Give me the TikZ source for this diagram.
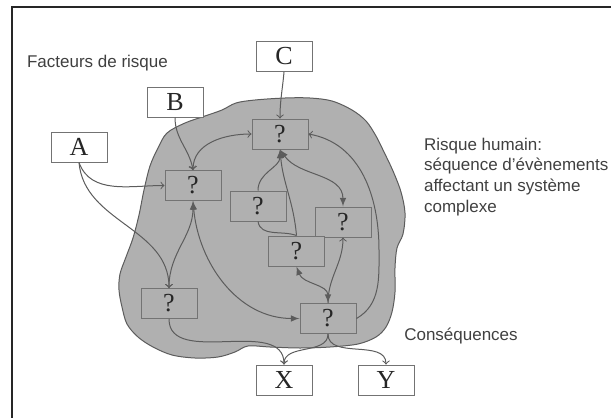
\documentclass[tikz,border=0pt]{standalone}
\usepackage{fontspec}
\setmainfont{Liberation Serif}
\setsansfont{Liberation Sans}
\usepackage{tikz}
\usetikzlibrary{calc}
\usetikzlibrary{shapes,arrows}

\definecolor{fondgris}{gray}{0.69}
\definecolor{traitgris}{gray}{0.36}
\definecolor{cadregris}{gray}{0.45}
\definecolor{textegris}{gray}{0.25}

\begin{document}
\begin{tikzpicture}[x=0.5pt,y=-0.5pt]
			\tikzstyle{every node}=[font=\fontsize{8.5}{10.3}\selectfont\sffamily, text=textegris]
			\tikzstyle{facteur}=[draw=cadregris, line width=0.5pt, fill=white, minimum width=28pt, minimum height=15pt, inner sep=0pt, font=\fontsize{13}{13}\selectfont\rmfamily, text=black!85]
			\tikzstyle{evt}=[facteur, fill=fondgris]
			\tikzstyle{lien}=[draw=traitgris, line width=0.5pt]
			
			\useasboundingbox (0,0) rectangle (611,418);
			\draw [line width=1.2pt, black!85] (12,418) -- (12,7) -- (611,7);
			
			% la tache : le systeme complexe
			\draw [draw=traitgris, line width=0.5pt, fill=fondgris] plot [smooth cycle, tension=0.55] coordinates {
				(167,133) (185,123) (205,116) (222,110) (236,103) (255,100) (285,98) (310,98) (332,101)
				(352,110) (366,121) (376,136) (384,152) (393,171) (401,192) (405,213) (403,234) (397,248)
				(395,268) (395,292) (392,312) (386,327) (376,337) (358,344) (330,347) (300,348) (270,347)
				(248,346) (235,352) (218,357) (195,358) (172,355) (153,347) (138,337) (127,324) (122,307)
				(119,290) (120,274) (126,257) (133,238) (139,215) (144,190) (150,166) (158,148)};
			
			\node [anchor=west] (facteurs) at (20,63) {Facteurs de risque};
			\node [anchor=north west, align=left] (risque) at (417,131) {Risque humain:\\s\'equence d’\'ev\`enements\\affectant un syst\`eme\\complexe};
			\node (cons) at (461,336) {Cons\'equences};
			
			\node [facteur] (C) at (284,56.5) {C};
			\node [facteur] (B) at (175,102) {B};
			\node [facteur] (A) at (79,147) {A};
			\node [facteur] (X) at (284,380) {X};
			\node [facteur] (Y) at (386,380) {Y};
			
			\node [evt] (q1) at (280,134) {?};
			\node [evt] (q2) at (193,185.5) {?};
			\node [evt] (q3) at (258,206) {?};
			\node [evt] (q4) at (343,222) {?};
			\node [evt] (q5) at (296.5,251) {?};
			\node [evt] (q6) at (169,303.5) {?};
			\node [evt] (q7) at (328,318.5) {?};
			
			\draw [lien,-to] (C.south) to[out=-95,in=90] (q1.north);
			\draw [lien,-to] (B.south) to[out=-90,in=100] (q2.north);
			\draw [lien,-to] (A.south) to[out=-70,in=180] (q2.west);
			\draw [lien,-to] (A.south) to[out=-85,in=90] (q6.north);
			
			\draw [lien,latex-to] (q2.south) to[out=-90,in=90] (q6.north);
			\draw [lien,latex-latex] (q2.south) to[out=-85,in=180] (q7.west);
			\draw [lien,to-to] (q2.north) to[out=90,in=180] (q1.west);
			
			\draw [lien,-latex] (q3.north) to[out=90,in=-90] (q1.south);
			\draw [lien] (q3.south) to[out=-80,in=160] (q5.north);
			\draw [lien,-latex] (q5.north) to[out=95,in=-85] (q1.south);
			\draw [lien,latex-latex] (q1.south) to[out=-55,in=90] (q4.north);
			\draw [lien,-to] (q7.east) to[out=30,in=-90] (379,250) to[out=90,in=-10] (q1.east);
			
			\draw [lien,latex-latex] (q5.south) to[out=-70,in=90] (q7.north);
			\draw [lien,-to] (q7.north) to[out=90,in=-90] (q4.south);
			
			\draw [lien,-to] (q6.south) to[out=-90,in=90] (X.north);
			\draw [lien,-to] (q7.south) to[out=-90,in=90] (X.north);
			\draw [lien,-to] (q7.south) to[out=-90,in=90] (Y.north);
			
\end{tikzpicture}
\end{document}
